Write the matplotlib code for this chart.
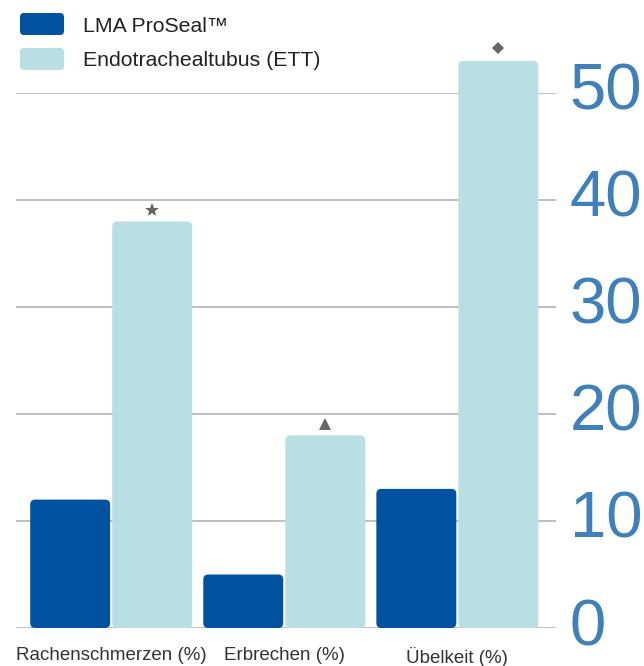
import matplotlib
matplotlib.use("Agg")
import matplotlib.pyplot as plt
from matplotlib.patches import FancyBboxPatch
import numpy as np

categories = ["Rachenschmerzen (%)", "Erbrechen (%)", "Übelkeit (%)"]
series_names = ["LMA ProSeal™", "Endotrachealtubus (ETT)"]
lma_values = [12, 5, 13]
ett_values = [38, 18, 53]
ett_markers = ["*", "^", "D"]
y_ticks = [0, 10, 20, 30, 40, 50]

col_lma = "#0152a0"
col_ett = "#b9dfe4"
col_tick = "#3f7fba"
col_grid = "#b4b4b4"
col_mark = "#666666"

plt.rcParams["font.family"] = ["Liberation Sans", "DejaVu Sans"]

W, H = 644, 666
fig = plt.figure(figsize=(W / 100, H / 100), dpi=100)
ax_left, ax_right = 16, 556
ax_bottom, ax_top = 628, 93
ax = fig.add_axes([ax_left / W, 1 - ax_bottom / H, (ax_right - ax_left) / W, (ax_bottom - ax_top) / H])

x = np.arange(len(categories))
bw = 0.462
off = 0.237

ax.set_xlim(-0.55, 2.57)
ax.set_ylim(0, 50)

bars_l = ax.bar(x - off, lma_values, bw, color=col_lma, zorder=3)
bars_e = ax.bar(x + off, ett_values, bw, color=col_ett, zorder=3)

px_x = (ax_right - ax_left) / (2.57 + 0.55)
px_y = (ax_bottom - ax_top) / 50.0
r_px = 5.0
for bars in (bars_l, bars_e):
    for b in bars:
        b.set_visible(False)
        fb = FancyBboxPatch((b.get_x(), b.get_y()), b.get_width(), b.get_height(),
                            boxstyle=f"round,pad=0,rounding_size={r_px / px_x}",
                            mutation_aspect=px_x / px_y,
                            facecolor=b.get_facecolor(), edgecolor="none",
                            zorder=3, clip_on=False)
        ax.add_patch(fb)

for xi, v, m in zip(x + off, ett_values, ett_markers):
    ms = {"*": 10, "^": 8, "D": 6}[m]
    ax.plot([xi], [v + (13 if m == "D" else 11) / px_y], marker=m, color=col_mark,
            markersize=ms, markeredgewidth=0, linestyle="none", clip_on=False, zorder=4)

ax.set_yticks(y_ticks)
ax.yaxis.tick_right()
ax.tick_params(axis="y", length=0, pad=10, labelsize=47, labelcolor=col_tick)
for lab in ax.get_yticklabels():
    lab.set_verticalalignment("center")
ax.grid(axis="y", color=col_grid, linewidth=1.2, zorder=0)
ax.set_axisbelow(True)

ax.set_xticks(x)
ax.set_xticklabels(categories)
ax.tick_params(axis="x", length=0, pad=14, labelsize=13.5, labelcolor="#333333")
xlabs = ax.get_xticklabels()
xlabs[0].set_x(x[0] - 0.04)
for s in ax.spines.values():
    s.set_visible(False)

for i, (name, col) in enumerate(zip(series_names, [col_lma, col_ett])):
    y0 = 13 + i * 35
    p = FancyBboxPatch((20 / W, 1 - (y0 + 22) / H), 44 / W, 22 / H,
                       boxstyle=f"round,pad=0,rounding_size={4 / W}",
                       mutation_aspect=W / H,
                       transform=fig.transFigure, facecolor=col, edgecolor="none")
    fig.patches.append(p)
    fig.text(83 / W, 1 - (y0 + 13) / H, name, fontsize=15.3, color="#222222",
             va="center", ha="left")

fig.savefig("out.png", dpi=100)
